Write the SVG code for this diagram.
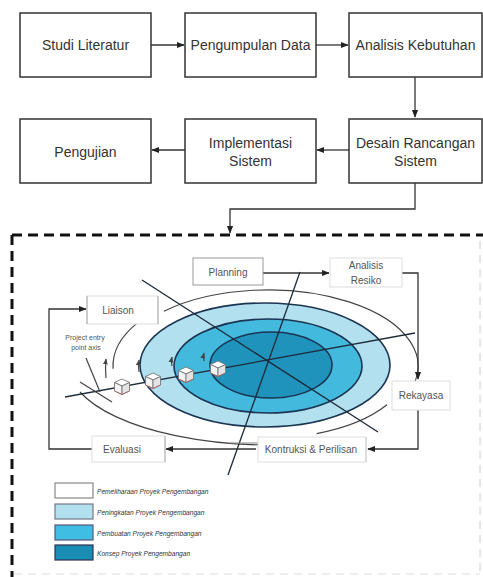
<svg xmlns="http://www.w3.org/2000/svg" width="483" height="577" viewBox="0 0 483 577">
<defs>
<style>
.box{fill:#fff;stroke:#333;stroke-width:1.5}
.t{font-family:"Liberation Sans",Arial,sans-serif;font-size:14px;fill:#333;text-anchor:middle;dominant-baseline:central}
.s{font-family:"Liberation Sans",Arial,sans-serif;font-size:10px;fill:#555;text-anchor:middle;dominant-baseline:central}
.lg{font-family:"Liberation Sans",Arial,sans-serif;font-size:6.6px;font-style:italic;fill:#333;dominant-baseline:central}
.ln{fill:none;stroke:#333;stroke-width:1.3}
.ax{fill:none;stroke:#1d2b3a;stroke-width:1.3}
.arc{fill:none;stroke:#444;stroke-width:1.2}
.lb{fill:#fff;stroke:#ddd;stroke-width:1}
.el{stroke:#1b3552;stroke-width:1.6}
</style>
<marker id="ah" viewBox="0 0 10 10" refX="9" refY="5" markerWidth="6" markerHeight="6" orient="auto-start-reverse">
<path d="M0,1 L10,5 L0,9 z" fill="#222"/>
</marker>
<marker id="sa" viewBox="0 0 10 10" refX="9" refY="5" markerWidth="5" markerHeight="5" orient="auto">
<path d="M0,1 L10,5 L0,9 z" fill="#444"/>
</marker>
<g id="cube">
<path d="M-7.5,-3.5 L0,-7 L7.5,-3.5 L0,0 z" fill="#fff" stroke="#777" stroke-width="0.9"/>
<path d="M-7.5,-3.5 L0,0 L0,8.5 L-7.5,5 z" fill="#f4f4f4" stroke="#777" stroke-width="0.9"/>
<path d="M0,0 L7.5,-3.5 L7.5,5 L0,8.5 z" fill="#e4e4e4" stroke="#777" stroke-width="0.9"/>
<path d="M-7.5,5 L0,8.5 L7.5,5" fill="none" stroke="#b55" stroke-width="0.7"/>
</g>
</defs>
<rect width="483" height="577" fill="#fff"/>

<g id="connectors">
<line class="ln" x1="151" y1="45" x2="184" y2="45" marker-end="url(#ah)"/>
<line class="ln" x1="316" y1="45" x2="348" y2="45" marker-end="url(#ah)"/>
<line class="ln" x1="415" y1="77" x2="415" y2="117" marker-end="url(#ah)"/>
<line class="ln" x1="349" y1="150" x2="317" y2="150" marker-end="url(#ah)"/>
<line class="ln" x1="185" y1="150" x2="152" y2="150" marker-end="url(#ah)"/>
<polyline class="ln" points="415,183 415,209 230,209 230,233" marker-end="url(#ah)"/>
</g>

<g id="n-studi"><rect class="box" x="20" y="13" width="131" height="64"/><text class="t" x="85.5" y="45">Studi Literatur</text></g>
<g id="n-pengumpulan"><rect class="box" x="185" y="13" width="131" height="64"/><text class="t" x="250.5" y="45">Pengumpulan Data</text></g>
<g id="n-analisis"><rect class="box" x="349" y="13" width="133" height="64"/><text class="t" x="415.5" y="45">Analisis Kebutuhan</text></g>
<g id="n-pengujian"><rect class="box" x="20" y="119" width="131" height="64"/><text class="t" x="85.5" y="152">Pengujian</text></g>
<g id="n-implementasi"><rect class="box" x="185" y="119" width="131" height="64"/><text class="t" x="250.5" y="143">Implementasi</text><text class="t" x="250.5" y="161">Sistem</text></g>
<g id="n-desain"><rect class="box" x="349" y="119" width="133" height="64"/><text class="t" x="415.5" y="143">Desain Rancangan</text><text class="t" x="415.5" y="161">Sistem</text></g>

<g id="spiral-frame">
<line x1="12" y1="235" x2="483" y2="235" stroke="#111" stroke-width="3" stroke-dasharray="10,6"/>
<line x1="12" y1="235" x2="12" y2="577" stroke="#111" stroke-width="3" stroke-dasharray="10,6"/>
<line x1="480" y1="241" x2="480" y2="577" stroke="#ccc" stroke-width="1" stroke-dasharray="8,6"/>
<line x1="14" y1="574" x2="480" y2="574" stroke="#ddd" stroke-width="1" stroke-dasharray="8,6"/>
</g>

<g id="spiral">
<ellipse class="el" cx="265" cy="365" rx="125" ry="62" fill="#b2e0ef"/>
<ellipse class="el" cx="268" cy="366" rx="94" ry="47" fill="#43b9de"/>
<ellipse class="el" cx="271" cy="365" rx="61" ry="33" fill="#1f93bb"/>
<path class="arc" d="M163.8,311.3 A150,76 0 0 1 409,392"/>
<path class="arc" d="M80,392 A200,80 0 0 0 320,442"/>
<path class="arc" d="M316.6,433.6 A142,73 0 0 0 387,404.8"/>
<path class="arc" d="M138,322.4 A155,80 0 0 0 113.1,368.8"/>
<line class="ax" x1="142" y1="280" x2="378" y2="432"/>
<line class="ax" x1="300" y1="272" x2="228" y2="475"/>
<line class="ax" x1="415" y1="333" x2="65" y2="397"/>
<line class="arc" x1="86" y1="358" x2="100" y2="392"/>
<line class="arc" x1="80" y1="382" x2="112" y2="402"/>
<path class="arc" d="M106,378 Q105,368 106,359" marker-end="url(#sa)"/>
<path class="arc" d="M139,372 Q138,366 139,360" marker-end="url(#sa)"/>
<path class="arc" d="M172,366 Q171,362 172,357" marker-end="url(#sa)"/>
<path class="arc" d="M204,361 Q203,357 204,353" marker-end="url(#sa)"/>
<use href="#cube" x="122" y="386"/>
<use href="#cube" x="153" y="380"/>
<use href="#cube" x="186" y="374"/>
<use href="#cube" x="218" y="368"/>
<text class="s" style="font-size:7px" x="85" y="337">Project entry</text>
<text class="s" style="font-size:7px" x="86" y="347">point axis</text>
</g>

<g id="spiral-connectors">
<line class="ln" x1="263" y1="273" x2="329" y2="273" marker-end="url(#ah)"/>
<polyline class="ln" points="402,273 418,273 418,379" marker-end="url(#ah)"/>
<polyline class="ln" points="418,410 418,449 368,449" marker-end="url(#ah)"/>
<line class="ln" x1="256" y1="449" x2="166" y2="449" marker-end="url(#ah)"/>
<polyline class="ln" points="92,449 49,449 49,309 86,309" marker-end="url(#ah)"/>
<line x1="230" y1="443" x2="258" y2="443" stroke="#888" stroke-width="1"/>
</g>

<g id="n-planning"><rect x="193" y="258" width="70" height="27" fill="#fff" stroke="#999" stroke-width="1"/><text class="s" x="228" y="272">Planning</text></g>
<g id="n-resiko"><rect class="lb" x="330" y="258" width="72" height="29"/><text class="s" x="366" y="265">Analisis</text><text class="s" x="366" y="280">Resiko</text></g>
<g id="n-rekayasa"><rect class="lb" x="392" y="381" width="58" height="29"/><text class="s" x="421" y="395">Rekayasa</text></g>
<g id="n-kontruksi"><rect class="lb" x="258" y="437" width="108" height="25" stroke="#eee"/><line x1="366" y1="437" x2="366" y2="462" stroke="#ccc"/><text class="s" x="311" y="449">Kontruksi &amp; Perilisan</text></g>
<g id="n-evaluasi"><rect class="lb" x="92" y="436" width="73" height="26"/><line x1="165" y1="436" x2="165" y2="462" stroke="#aaa"/><text class="s" x="122" y="449">Evaluasi</text></g>
<g id="n-liaison"><rect class="lb" x="87" y="296" width="71" height="28"/><line x1="87" y1="296" x2="87" y2="324" stroke="#aaa"/><line x1="158" y1="296" x2="158" y2="324" stroke="#aaa"/><text class="s" x="118" y="310">Liaison</text></g>

<g id="legend">
<rect x="55" y="483" width="38" height="15" fill="#fff" stroke="#888" stroke-width="1.2"/>
<rect x="55" y="504" width="38" height="15" fill="#b2e0ef" stroke="#778" stroke-width="1.2"/>
<rect x="55" y="525" width="38" height="15" fill="#40bde2" stroke="#557" stroke-width="1.2"/>
<rect x="55" y="545" width="38" height="15" fill="#1a8db5" stroke="#335" stroke-width="1.2"/>
<text class="lg" x="97" y="491">Pemeliharaan Proyek Pengembangan</text>
<text class="lg" x="97" y="512">Peningkatan Proyek Pengembangan</text>
<text class="lg" x="97" y="533">Pembuatan Proyek Pengembangan</text>
<text class="lg" x="97" y="553">Konsep Proyek Pengembangan</text>
</g>
</svg>
